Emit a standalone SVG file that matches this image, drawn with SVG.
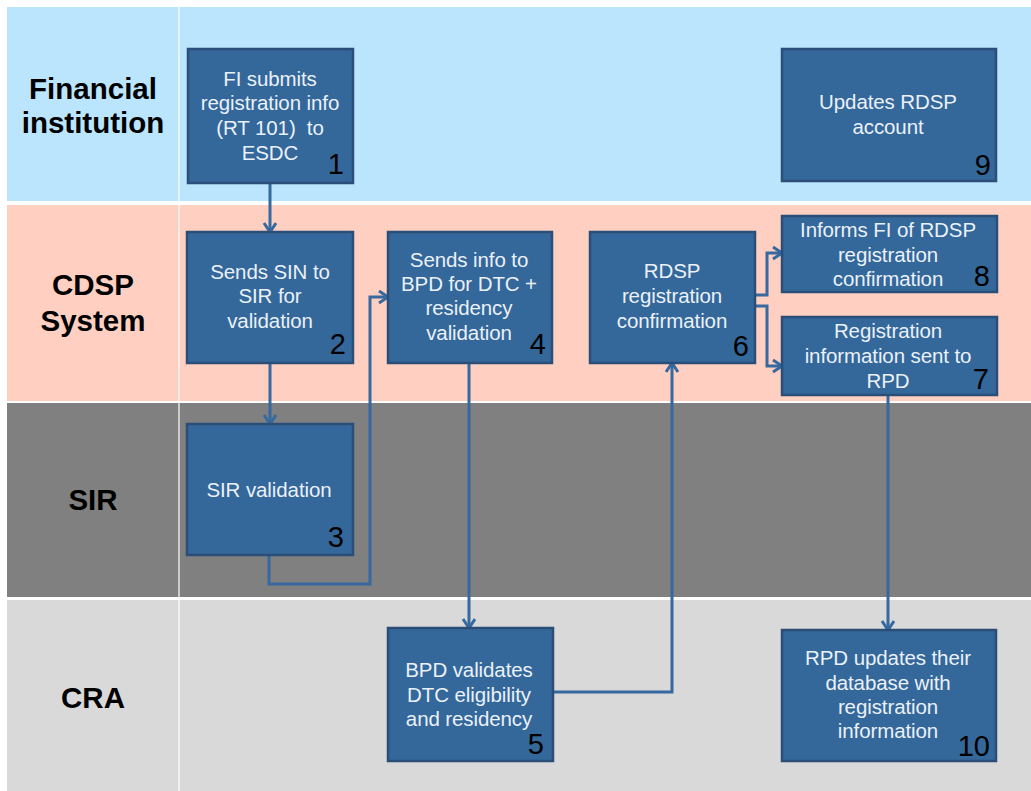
<svg xmlns="http://www.w3.org/2000/svg" width="1031" height="791" viewBox="0 0 1031 791">
<defs>
<style>
.box{fill:#34679A;stroke:#2A4E78;stroke-width:2.5}
.bt{font-family:"Liberation Sans",Arial,sans-serif;font-size:20.5px;fill:#EAF1F8;text-anchor:middle;letter-spacing:-0.1px}
.num{font-family:"Liberation Sans",Arial,sans-serif;font-size:29px;fill:#000;text-anchor:end}
.lane{font-family:"Liberation Sans",Arial,sans-serif;font-size:29.5px;font-weight:bold;fill:#000;text-anchor:middle}
.con{fill:none;stroke:#3569A0;stroke-width:3;marker-end:url(#arr)}
</style>
<marker id="arr" markerUnits="userSpaceOnUse" markerWidth="16" markerHeight="16" refX="10" refY="7" orient="auto">
<path d="M1,1 L10,7 L1,13" fill="none" stroke="#3569A0" stroke-width="3"/>
</marker>
</defs>
<rect width="1031" height="791" fill="#FFFFFF"/>
<g id="lanes">
<rect x="7" y="7" width="1024" height="194" fill="#BBE5FC"/>
<rect x="7" y="205" width="1024" height="196" fill="#FFD0C2"/>
<rect x="7" y="403" width="1024" height="194" fill="#808080"/>
<rect x="7" y="600" width="1024" height="191" fill="#D9D9D9"/>
<rect x="178" y="7" width="2" height="784" fill="#FFFFFF" opacity="0.6"/>
<text class="lane" x="93" y="99">Financial</text>
<text class="lane" x="93" y="133">institution</text>
<text class="lane" x="93" y="295">CDSP</text>
<text class="lane" x="93" y="331">System</text>
<text class="lane" x="93" y="510">SIR</text>
<text class="lane" x="93" y="708">CRA</text>
</g>
<g id="connectors">
<polyline class="con" points="270,183 270,232"/>
<polyline class="con" points="270,363 270,424"/>
<polyline class="con" points="269,555 269,584 370,584 370,297 388,297"/>
<polyline class="con" points="469,363 469,628"/>
<polyline class="con" points="553,692 672,692 672,363"/>
<polyline class="con" points="755,295 767,295 767,253 782,253"/>
<polyline class="con" points="755,306 767,306 767,366 782,366"/>
<polyline class="con" points="888,395 888,630"/>
</g>
<g id="n1"><rect class="box" x="188" y="49" width="165" height="134"/>
<text class="bt" x="270" y="86">FI submits</text><text class="bt" x="270" y="110">registration info</text><text class="bt" x="270" y="135">(RT 101)&#160; to</text><text class="bt" x="270" y="160">ESDC</text>
<text class="num" x="344" y="174">1</text></g>
<g id="n2"><rect class="box" x="187" y="232" width="166" height="131"/>
<text class="bt" x="270" y="279">Sends SIN to</text><text class="bt" x="270" y="303">SIR for</text><text class="bt" x="270" y="328">validation</text>
<text class="num" x="346" y="354">2</text></g>
<g id="n3"><rect class="box" x="187" y="424" width="166" height="131"/>
<text class="bt" x="269" y="497">SIR validation</text>
<text class="num" x="344" y="547">3</text></g>
<g id="n4"><rect class="box" x="388" y="232" width="164" height="131"/>
<text class="bt" x="469" y="267">Sends info to</text><text class="bt" x="469" y="291">BPD for DTC +</text><text class="bt" x="469" y="315">residency</text><text class="bt" x="469" y="340">validation</text>
<text class="num" x="546" y="354">4</text></g>
<g id="n5"><rect class="box" x="388" y="628" width="165" height="133"/>
<text class="bt" x="469" y="677">BPD validates</text><text class="bt" x="469" y="702">DTC eligibility</text><text class="bt" x="469" y="726">and residency</text>
<text class="num" x="544" y="754">5</text></g>
<g id="n6"><rect class="box" x="590" y="232" width="165" height="131"/>
<text class="bt" x="672" y="278">RDSP</text><text class="bt" x="672" y="303">registration</text><text class="bt" x="672" y="328">confirmation</text>
<text class="num" x="749" y="356">6</text></g>
<g id="n7"><rect class="box" x="782" y="317" width="215" height="78"/>
<text class="bt" x="888" y="338">Registration</text><text class="bt" x="888" y="363">information sent to</text><text class="bt" x="888" y="388">RPD</text>
<text class="num" x="989" y="389">7</text></g>
<g id="n8"><rect class="box" x="782" y="216" width="215" height="76"/>
<text class="bt" x="888" y="237">Informs FI of RDSP</text><text class="bt" x="888" y="262">registration</text><text class="bt" x="888" y="286">confirmation</text>
<text class="num" x="990" y="286">8</text></g>
<g id="n9"><rect class="box" x="782" y="49" width="214" height="132"/>
<text class="bt" x="888" y="109">Updates RDSP</text><text class="bt" x="888" y="134">account</text>
<text class="num" x="991" y="175">9</text></g>
<g id="n10"><rect class="box" x="782" y="630" width="214" height="131"/>
<text class="bt" x="888" y="665">RPD updates their</text><text class="bt" x="888" y="690">database with</text><text class="bt" x="888" y="714">registration</text><text class="bt" x="888" y="738">information</text>
<text class="num" x="990" y="756">10</text></g>
</svg>
